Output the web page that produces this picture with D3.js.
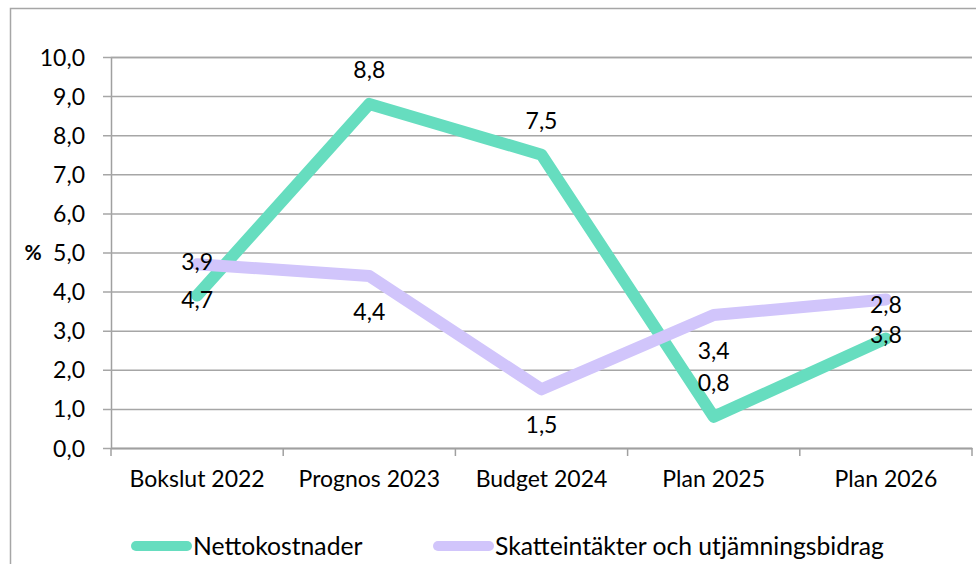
<!DOCTYPE html>
<html>
<head>
<meta charset="utf-8">
<script src="https://cdn.jsdelivr.net/npm/d3@7"></script>
<style>
  body { margin: 0; background: #fff; }
  svg text { font-family: "Lato", "Open Sans", sans-serif; fill: #000; }
</style>
</head>
<body>
<div id="chart"></div>
<script>
// Nettokostnader vs skatteintäkter, utveckling i procent

const categories = ["Bokslut 2022", "Prognos 2023", "Budget 2024", "Plan 2025", "Plan 2026"];
const nettokostnader = [3.9, 8.8, 7.5, 0.8, 2.8];
const skatteintakter = [4.7, 4.4, 1.5, 3.4, 3.8];
const yTicks = [0, 1, 2, 3, 4, 5, 6, 7, 8, 9, 10];

const series = [
  { name: "Nettokostnader", values: nettokostnader, color: "#66ddbf", labelDy: -34 },
  { name: "Skatteintäkter och utjämningsbidrag", values: skatteintakter, color: "#d1c5fb", labelDy: 36 }];

const w = 976, h = 564;
const pT = 57, pR = 4, pB = 116, pL = 111; // padding, clockwise from top
const fs = 23;

const svg = d3.select("#chart").
append("svg").
attr("width", w).
attr("height", h);

// outer frame (top and left edges visible)
svg.append("path").
attr("d", `M10.5 ${h} V8.5 H${w}`).
attr("fill", "none").
attr("stroke", "#a6a6a6").
attr("stroke-width", 1.5);

const xScale = d3.scaleBand().
domain(categories).
range([pL, w - pR]);

const yScale = d3.scaleLinear().
domain([0, 10]).
range([h - pB, pT]);

const fmt = v => d3.format(".1f")(v).replace(".", ",");

// gridlines + y axis labels
const yAxis = d3.axisLeft(yScale).
tickValues(yTicks).
tickSize(-(w - pR - pL)).
tickPadding(26).
tickFormat(fmt);

const gy = svg.append("g").
attr("transform", `translate(${pL} 0)`).
call(yAxis);
gy.select(".domain").attr("stroke", "#a0a0a0").attr("stroke-width", 1.5);
gy.selectAll(".tick line").attr("stroke", "#a6a6a6").attr("stroke-width", 1.5).attr("x1", -8);
gy.selectAll(".tick text").attr("font-size", fs).attr("dy", "0.35em");

// x axis
const xAxis = d3.axisBottom(xScale).
tickSize(0).
tickPadding(23);

const gx = svg.append("g").
attr("transform", `translate(0 ${h - pB})`).
call(xAxis);
gx.select(".domain").attr("stroke", "#a0a0a0").attr("stroke-width", 1.5);
gx.selectAll(".tick text").attr("font-size", fs).attr("dy", "0.71em");

// category separator ticks
svg.append("g").
selectAll("line").
data(categories.concat([null])).
join("line").
attr("x1", (d, i) => pL + i * xScale.bandwidth()).
attr("x2", (d, i) => pL + i * xScale.bandwidth()).
attr("y1", h - pB).
attr("y2", h - pB + 8).
attr("stroke", "#a0a0a0").
attr("stroke-width", 1.5);

svg.append("text").
attr("x", 33).
attr("y", yScale(5)).
attr("dy", "0.35em").
attr("text-anchor", "middle").
attr("font-size", 21).
attr("font-weight", "bold").
text("%");

// lines
const line = d3.line().
x((d, i) => xScale(categories[i]) + xScale.bandwidth() / 2).
y(d => yScale(d));

series.forEach(s => {
  svg.append("path").
  datum(s.values).
  attr("d", line).
  attr("fill", "none").
  attr("stroke", s.color).
  attr("stroke-width", 12).
  attr("stroke-linejoin", "round").
  attr("stroke-linecap", "round");
});

// data labels
series.forEach(s => {
  svg.append("g").
  selectAll("text").
  data(s.values).
  join("text").
  attr("x", (d, i) => xScale(categories[i]) + xScale.bandwidth() / 2).
  attr("y", d => yScale(d) + s.labelDy).
  attr("dy", "0.35em").
  attr("text-anchor", "middle").
  attr("font-size", fs).
  text(fmt);
});

// legend
const legendX = [131, 433];
const legend = svg.append("g").attr("transform", `translate(0 546)`);
series.forEach((s, i) => {
  legend.append("line").
  attr("x1", legendX[i] + 5).
  attr("x2", legendX[i] + 56).
  attr("stroke", s.color).
  attr("stroke-width", 10).
  attr("stroke-linecap", "round");
  legend.append("text").
  attr("x", legendX[i] + 62).
  attr("dy", "0.35em").
  attr("font-size", 24.7).
  text(s.name);
});
</script>
</body>
</html>
